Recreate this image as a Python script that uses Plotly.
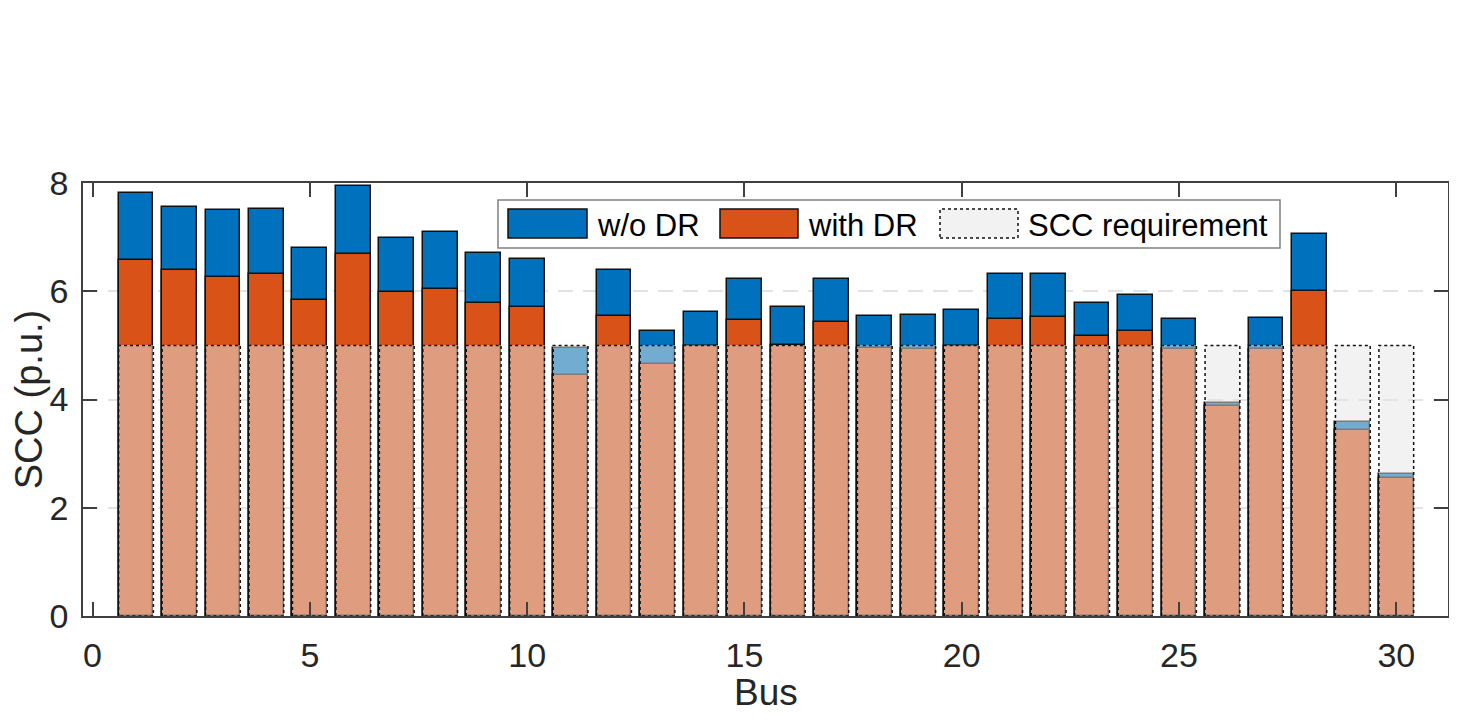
import plotly.graph_objects as go

# ---------------- data ----------------
buses = list(range(1, 31))
scc_without_dr = [7.81, 7.56, 7.51, 7.52, 6.79, 7.95, 6.99, 7.09, 6.70, 6.60,
                  4.95, 6.40, 5.26, 5.62, 6.23, 5.71, 6.22, 5.55, 5.56, 5.66,
                  6.31, 6.32, 5.79, 5.94, 5.48, 3.93, 5.50, 7.05, 3.58, 2.63]
scc_with_dr = [6.58, 6.39, 6.26, 6.31, 5.83, 6.68, 5.98, 6.05, 5.78, 5.71,
               4.46, 5.55, 4.66, 4.98, 5.46, 5.01, 5.44, 4.95, 4.94, 4.99,
               5.49, 5.53, 5.17, 5.26, 4.94, 3.88, 4.93, 6.00, 3.43, 2.55]
scc_requirement = [5.0] * 30
series_names = ["w/o DR", "with DR", "SCC requirement"]
x_title = "Bus"
y_title = "SCC (p.u.)"
x_ticks = [0, 5, 10, 15, 20, 25, 30]
y_ticks = [0, 2, 4, 6, 8]

# ---------------- style ----------------
BLUE = "#0072BD"
ORANGE = "#D95319"
REQ_FILL = "rgba(229,229,229,0.5)"
BAR_W = 0.8
FONT = "Liberation Sans, Arial, Helvetica, sans-serif"
OFF = 8                      # page body margin
W, H = 1441, 706
L, R, T, B = 75, 1, 175, 98  # plot area at page px 83..1448, 183..616

fig = go.Figure()
fig.add_trace(go.Bar(x=buses, y=scc_without_dr, name=series_names[0], width=BAR_W,
                     marker=dict(color=BLUE, line=dict(color="#111111", width=1.5)),
                     showlegend=False))
fig.add_trace(go.Bar(x=buses, y=scc_with_dr, name=series_names[1], width=BAR_W,
                     marker=dict(color=ORANGE, line=dict(color="#111111", width=1.5)),
                     showlegend=False))
fig.add_trace(go.Bar(x=buses, y=scc_requirement, name=series_names[2], width=BAR_W,
                     marker=dict(color=REQ_FILL, line=dict(width=0)),
                     showlegend=False))

# dotted outlines of requirement bars (derived from data)
ox, oy = [], []
for b, r in zip(buses, scc_requirement):
    x0, x1 = b - BAR_W / 2, b + BAR_W / 2
    ox += [x0, x0, x1, x1, x0, None]
    oy += [0, r, r, 0, 0, None]
fig.add_trace(go.Scatter(x=ox, y=oy, mode="lines", hoverinfo="skip",
                         line=dict(color="#111111", width=1.5, dash="dot"),
                         showlegend=False))

# ---------------- custom legend (page pixel -> paper) ----------------
pw, ph = W - L - R, H - T - B
def px(x):
    return (x - OFF - L) / pw
def py(y):
    return 1 - (y - OFF - T) / ph

shapes = []
shapes.append(dict(type="rect", xref="paper", yref="paper",
                   x0=px(498), x1=px(1280), y0=py(248), y1=py(200),
                   fillcolor="white", line=dict(color="#808080", width=1.5), layer="above"))
patches = [(508, 587, BLUE, "solid"),
           (720, 798, ORANGE, "solid"),
           (940, 1018, "rgb(242,242,242)", "dot")]
for x0, x1, col, dash in patches:
    shapes.append(dict(type="rect", xref="paper", yref="paper",
                       x0=px(x0), x1=px(x1), y0=py(238), y1=py(209),
                       fillcolor=col, line=dict(color="#111111", width=1.5, dash=dash),
                       layer="above"))
annotations = []
for xl, txt in zip([595, 806, 1026], series_names):
    annotations.append(dict(xref="paper", yref="paper", x=px(xl), y=py(225),
                            xanchor="left", yanchor="middle", showarrow=False,
                            text=txt, font=dict(family=FONT, size=31, color="#000000")))
# x-axis title as annotation (to place it freely below the tick labels)
annotations.append(dict(xref="paper", yref="paper", x=0.5, y=py(692),
                        xanchor="center", yanchor="middle", showarrow=False,
                        text=x_title, font=dict(family=FONT, size=37, color="#262626")))

fig.update_layout(
    width=W, height=H, margin=dict(l=L, r=R, t=T, b=B, pad=0, autoexpand=False),
    paper_bgcolor="white", plot_bgcolor="white",
    barmode="overlay", bargap=0,
    font=dict(family=FONT, color="#262626"),
    shapes=shapes, annotations=annotations, showlegend=False,
)
fig.update_xaxes(range=[-0.22, 31.19], tickvals=x_ticks, ticks="inside", ticklen=14,
                 tickwidth=1.5, tickcolor="#404040", mirror="ticks", showline=True,
                 linecolor="#404040", linewidth=1.5, showgrid=False, zeroline=False,
                 automargin=False,
                 tickfont=dict(size=34, family=FONT, color="#262626"), ticklabelstandoff=8)
fig.update_yaxes(range=[0, 8], tickvals=y_ticks, ticks="inside", ticklen=14,
                 tickwidth=1.5, tickcolor="#404040", mirror="ticks", showline=True,
                 linecolor="#404040", linewidth=1.5, showgrid=True, gridcolor="#e3e3e3",
                 gridwidth=1.5, griddash="15px,10px", zeroline=False,
                 automargin=False,
                 tickfont=dict(size=34, family=FONT, color="#262626"), ticklabelstandoff=6,
                 title=dict(text=y_title, font=dict(size=38, family=FONT, color="#262626"),
                            standoff=10))

fig.write_html("out.html")
